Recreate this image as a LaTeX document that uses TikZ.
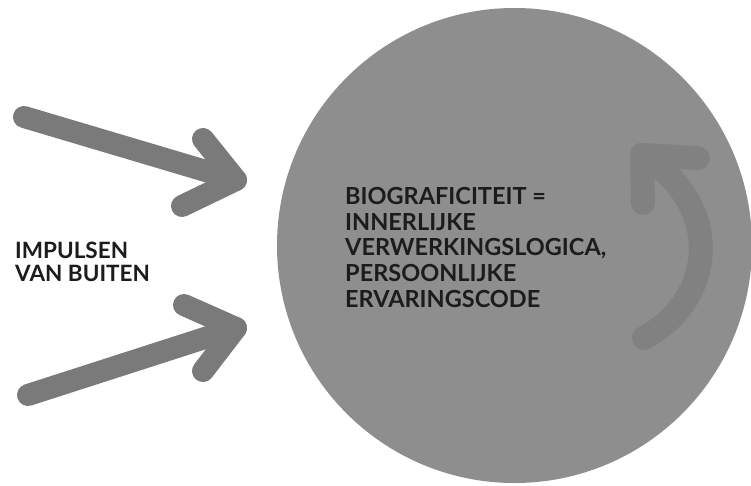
\documentclass[tikz,border=0pt]{standalone}
\usepackage{fontspec}
\setmainfont{Lato}
\definecolor{circgray}{HTML}{8E8E8E}
\definecolor{arrgray}{HTML}{7A7A7A}
\definecolor{curvgray}{HTML}{818181}
\definecolor{txtdark}{HTML}{1C1C1C}
\begin{document}
\begin{tikzpicture}[x=1pt,y=-1pt,
  thickarrow/.style={draw=arrgray,line width=22pt,line cap=round,line join=round},
  curvarrow/.style={draw=curvgray,line width=24pt,line cap=round,line join=round},
  lbl/.style={anchor=north west,inner sep=0pt,align=left,text=txtdark,font=\fontsize{22.5}{23}\selectfont\bfseries}]
\useasboundingbox (0,0) rectangle (751,486);
\fill[white] (0,0) rectangle (751,486);
% big circle
\node[circle,fill=circgray,minimum size=475pt,inner sep=0pt] (c) at (514.5,245.5) {};
% top arrow
\coordinate (a1s) at (24,117);
\coordinate (a1t) at (236,180);
\coordinate (a1u) at (203,139);
\coordinate (a1l) at (182,206);
\draw[thickarrow] (a1s) -- (a1t);
\draw[thickarrow] (a1u) -- (a1t) -- (a1l);
% bottom arrow
\coordinate (a2s) at (28,395);
\coordinate (a2t) at (236,328);
\coordinate (a2u) at (184,305);
\coordinate (a2l) at (203,371);
\draw[thickarrow] (a2s) -- (a2t);
\draw[thickarrow] (a2u) -- (a2t) -- (a2l);
% curved arrow inside circle
\coordinate (cs) at (644,338);
\coordinate (ct) at (642,155);
\coordinate (cu) at (698,158);
\coordinate (cl) at (643,203);
\draw[curvarrow] (cs) .. controls (715,300) and (725,205) .. (ct);
\draw[curvarrow] (cu) -- (ct) -- (cl);
% texts
\node[lbl] (imp) at (15,242) {IMPULSEN\\VAN BUITEN};
\node[lbl,font=\fontsize{23.5}{25.7}\selectfont\bfseries] (bio) at (345,187) {BIOGRAFICITEIT =\\INNERLIJKE\\VERWERKINGSLOGICA,\\PERSOONLIJKE\\ERVARINGSCODE};
\end{tikzpicture}
\end{document}
